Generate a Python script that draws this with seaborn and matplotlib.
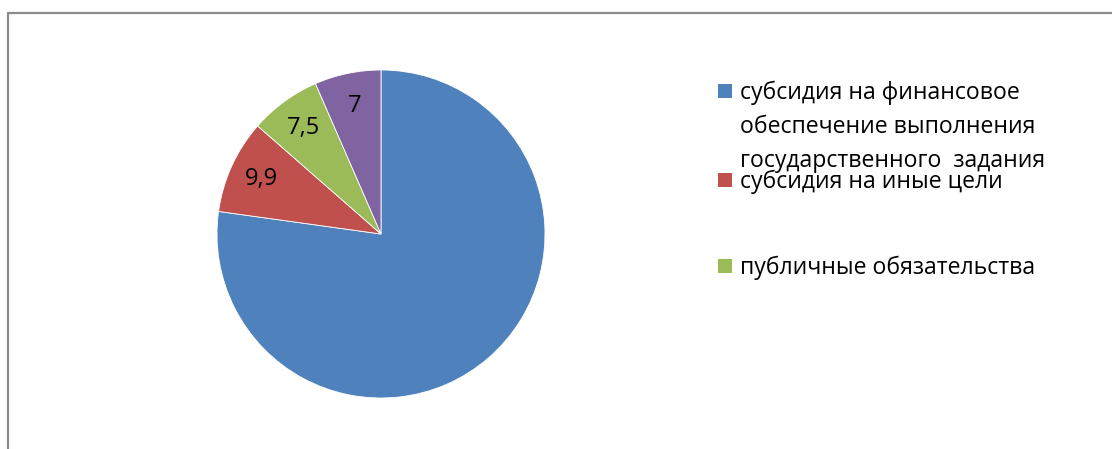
import matplotlib
matplotlib.use("Agg")
import matplotlib.pyplot as plt
import seaborn as sns
from matplotlib.patches import Rectangle
from matplotlib.lines import Line2D

sns.set_style("white")
plt.rcParams['font.family'] = ['Open Sans', 'DejaVu Sans']

# data
categories = [
    "субсидия на финансовое\nобеспечение выполнения\nгосударственного  задания",
    "субсидия на иные цели",
    "публичные обязательства",
    "прочее",
]
values = [82.6, 9.9, 7.5, 7.0]
value_labels = ["", "9,9", "7,5", "7"]
colors = ["#4F81BD", "#C0504D", "#9BBB59", "#8064A2"]

W, H = 1112, 449
fig = plt.figure(figsize=(W / 100, H / 100), dpi=100)

# frame of the chart area (only top and left edges are visible)
fig.add_artist(Line2D([8 / W, 1], [1 - 12.5 / H, 1 - 12.5 / H], color="#8c8c8c", lw=1.6))
fig.add_artist(Line2D([8 / W, 8 / W], [1 - 12.5 / H, 0], color="#8c8c8c", lw=1.6))

# pie
cx, cy, r = 381, 234, 164
ax = fig.add_axes([(cx - r) / W, 1 - (cy + r) / H, 2 * r / W, 2 * r / H])
wedges, texts = ax.pie(
    values,
    labels=value_labels,
    colors=colors,
    startangle=90,
    counterclock=False,
    labeldistance=0.8,
    wedgeprops=dict(edgecolor="white", linewidth=0.6),
)
for t in texts:
    t.set_ha("center")
    t.set_va("center")
    t.set_fontsize(17)
    t.set_color("black")
ax.set_xlim(-1, 1)
ax.set_ylim(-1, 1)
ax.axis("off")

# legend (three visible entries)
legend_rows = [92, 181, 267]
for i, y in enumerate(legend_rows):
    fig.add_artist(Rectangle((718 / W, 1 - (y + 6) / H), 14 / W, 14 / H,
                             transform=fig.transFigure, color=colors[i], lw=0))
    fig.text(740 / W, 1 - (y - 11.5) / H, categories[i], fontsize=16.6,
             ha="left", va="top", linespacing=1.55, color="black")

fig.savefig("out.png", dpi=100)
